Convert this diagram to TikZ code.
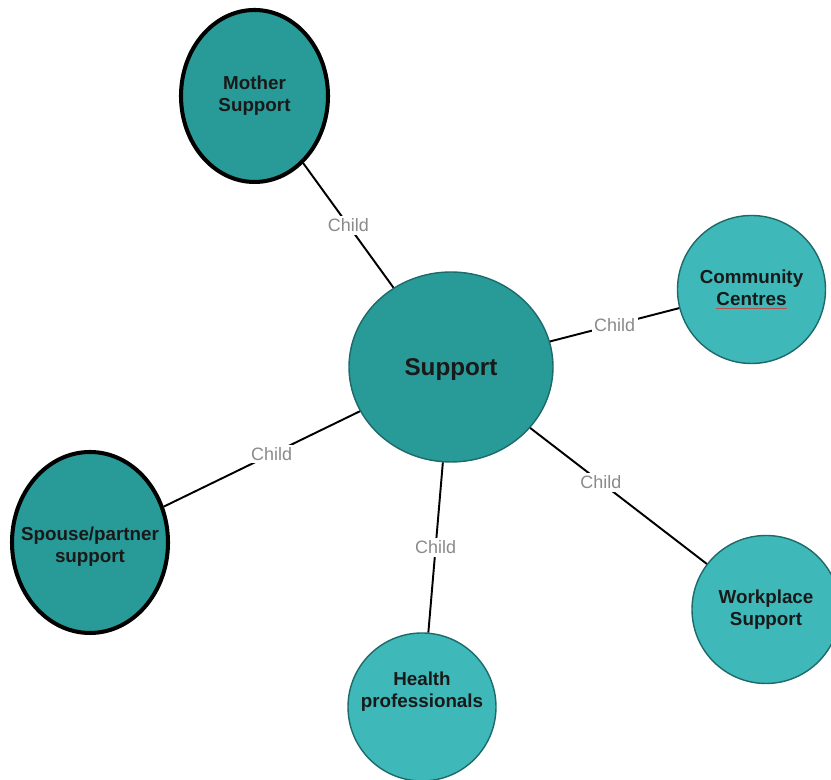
\documentclass[tikz,border=0pt]{standalone}
\usepackage{fontspec}
\setmainfont{Liberation Sans}
\usetikzlibrary{positioning, shapes.geometric}
\definecolor{deepteal}{HTML}{289A98}
\definecolor{liteteal}{HTML}{3EB8B8}
\definecolor{rimteal}{HTML}{1E6A6A}
\definecolor{inkgray}{HTML}{8A8A8A}
\definecolor{spellred}{HTML}{B5524E}

\begin{document}
\begin{tikzpicture}[
    bubble/.style={ellipse, inner sep=0pt},
    bubtext/.style={align=center, text=black!90, inner sep=0pt,
      font=\fontsize{10.7}{12.4}\selectfont\bfseries},
    hub/.style={bubble, fill=deepteal, draw=rimteal, line width=0.8pt,
      minimum width=4.08cm, minimum height=3.8cm},
    parent/.style={bubble, fill=deepteal, draw=black, line width=2.3pt},
    child/.style={bubble, fill=liteteal, draw=rimteal, line width=0.8pt,
      minimum width=2.96cm, minimum height=2.96cm},
    link/.style={black, line width=1.1pt},
    lbl/.style={fill=white, inner sep=1.5pt, text=inkgray,
      font=\fontsize{10.2}{12}\selectfont}
  ]
    \useasboundingbox (0,0) rectangle (16.62,15.6);
    % Mitte
    \node[hub, label={[bubtext, yshift=-0.06cm,
      font=\fontsize{13.8}{16}\selectfont\bfseries]center:Support}]
      (sup) at (9.02,8.26) {};
    % dunkle Knoten mit dickem Rand
    \node[parent, minimum width=2.94cm, minimum height=3.44cm,
      label={[bubtext]center:Mother\\Support}] (moth) at (5.09,13.68) {};
    \node[parent, minimum width=3.12cm, minimum height=3.62cm,
      label={[bubtext, yshift=-0.08cm]center:Spouse/partner\\support}]
      (spou) at (1.80,4.75) {};
    % helle Knoten
    \node[child, label={[bubtext]center:Community\\
      {\color{spellred}$\underline{\hbox{\color{black!90}Centres}}$}}]
      (comm) at (15.03,9.81) {};
    \node[child, label={[bubtext]center:Workplace\\Support}] (work) at (15.32,3.41) {};
    \node[child, label={[bubtext, yshift=0.3cm]center:Health\\professionals}]
      (heal) at (8.44,1.46) {};
    % Verbindungen
    \draw[link] (sup) -- node[lbl] {Child} (moth);
    \draw[link] (sup) -- node[lbl] {Child} (comm);
    \draw[link] (sup) -- node[lbl, pos=0.45] {Child} (spou);
    \draw[link] (sup) -- node[lbl] {Child} (heal);
    \draw[link] (sup) -- node[lbl, pos=0.4] {Child} (work);
  \end{tikzpicture}
\end{document}
